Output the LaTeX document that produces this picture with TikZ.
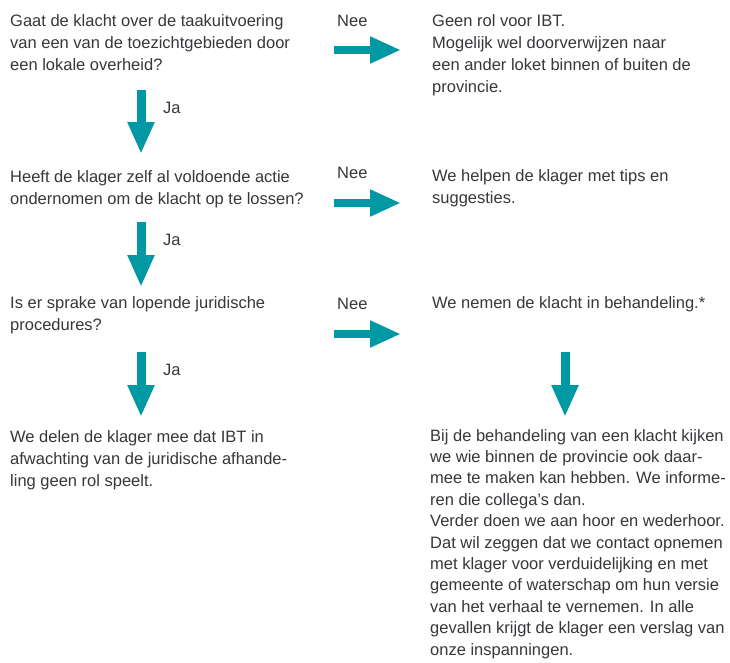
\documentclass[tikz,border=0pt]{standalone}
\usepackage{fontspec}
\setmainfont{Liberation Sans}
\usetikzlibrary{arrows.meta}
\definecolor{teal1}{RGB}{0,152,163}
\definecolor{txt}{RGB}{55,55,60}
\begin{document}
\begin{tikzpicture}[x=1pt,y=-1pt,
  txtbox/.style={anchor=north west,inner sep=0pt,align=left,text=txt,
    font=\fontsize{16.5}{22}\selectfont},
  lbl/.style={anchor=base west,inner sep=0pt,text=txt,font=\fontsize{16.5}{22}\selectfont},
  harrow/.style={draw=teal1,line width=8.5pt,-{Triangle[width=25pt,length=31pt]}},
  varrow/.style={draw=teal1,line width=9pt,-{Triangle[width=25pt,length=32pt]}}]
\useasboundingbox[fill=white] (0,0) rectangle (730,662);

% left column questions
\node[txtbox] (q1) at (10,14) {Gaat de klacht over de taakuitvoering\\van een van de toezichtgebieden door\\een lokale overheid?};
\node[txtbox] (q2) at (10,170) {Heeft de klager zelf al voldoende actie\\ondernomen om de klacht op te lossen?};
\node[txtbox] (q3) at (10,296) {Is er sprake van lopende juridische\\procedures?};
\node[txtbox] (e3) at (10,430) {We delen de klager mee dat IBT in\\afwachting van de juridische afhande-\\ling geen rol speelt.};

% right column answers
\node[txtbox] (a1) at (432,14) {Geen rol voor IBT.\\Mogelijk wel doorverwijzen naar\\een ander loket binnen of buiten de\\provincie.};
\node[txtbox] (a2) at (432,169) {We helpen de klager met tips en\\suggesties.};
\node[txtbox] (a3) at (432,296) {We nemen de klacht in behandeling.*};
\node[txtbox,font=\fontsize{16.5}{21.4}\selectfont] (e4) at (430,429) {Bij de behandeling van een klacht kijken\\we wie binnen de provincie ook daar-\\mee te maken kan hebben. We informe-\\ren die collega’s dan.\\Verder doen we aan hoor en wederhoor.\\Dat wil zeggen dat we contact opnemen\\met klager voor verduidelijking en met\\gemeente of waterschap om hun versie\\van het verhaal te vernemen. In alle\\gevallen krijgt de klager een verslag van\\onze inspanningen.};

% labels
\node[lbl] (n1) at (337,26) {Nee};
\node[lbl] (n2) at (337,178) {Nee};
\node[lbl] (n3) at (337,309) {Nee};
\node[lbl] (j1) at (163,113) {Ja};
\node[lbl] (j2) at (163,245) {Ja};
\node[lbl] (j3) at (163,375) {Ja};

% arrow end points
\coordinate (h1s) at (334,50);  \coordinate (h1e) at (401,50);
\coordinate (h2s) at (334,203); \coordinate (h2e) at (401,203);
\coordinate (h3s) at (334,334); \coordinate (h3e) at (401,334);
\coordinate (v1s) at (141,90);  \coordinate (v1e) at (141,154);
\coordinate (v2s) at (141,222); \coordinate (v2e) at (141,287);
\coordinate (v3s) at (141,352); \coordinate (v3e) at (141,417);
\coordinate (v4s) at (565,352); \coordinate (v4e) at (565,417);

\draw[harrow] (h1s) -- (h1e);
\draw[harrow] (h2s) -- (h2e);
\draw[harrow] (h3s) -- (h3e);
\draw[varrow] (v1s) -- (v1e);
\draw[varrow] (v2s) -- (v2e);
\draw[varrow] (v3s) -- (v3e);
\draw[varrow] (v4s) -- (v4e);
\end{tikzpicture}
\end{document}
